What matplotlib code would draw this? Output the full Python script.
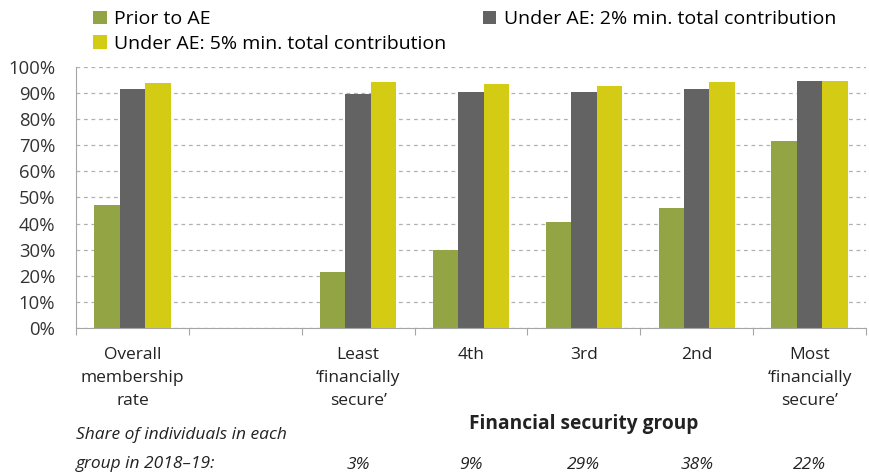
import numpy as np
import matplotlib
matplotlib.use("Agg")
import matplotlib.pyplot as plt

plt.rcParams['font.family'] = ['Open Sans', 'DejaVu Sans']

# data
groups = ["Overall\nmembership\nrate", "", "Least\n\u2018financially\nsecure\u2019", "4th", "3rd", "2nd",
          "Most\n\u2018financially\nsecure\u2019"]
prior = [47.1, np.nan, 21.3, 29.9, 40.5, 46.0, 71.5]
ae_2pc = [91.6, np.nan, 89.7, 90.5, 90.3, 91.6, 94.5]
ae_5pc = [93.7, np.nan, 94.4, 93.5, 92.6, 94.1, 94.5]
shares = ["", "", "3%", "9%", "29%", "38%", "22%"]

col_prior = "#93A445"
col_2pc = "#636363"
col_5pc = "#D4CC14"
grey = "#A6A6A6"
txt = "#222222"

fig = plt.figure(figsize=(8.7, 4.73), dpi=100)
ax = fig.add_axes([0.0874, 0.3066, 0.908, 0.552])

x = np.arange(len(groups))
w = 0.225
b1 = ax.bar(x - w, prior, w, color=col_prior, label="Prior to AE")
b2 = ax.bar(x, ae_2pc, w, color=col_2pc, label="Under AE: 2% min. total contribution")
b3 = ax.bar(x + w, ae_5pc, w, color=col_5pc, label="Under AE: 5% min. total contribution")

ax.set_xlim(-0.5, len(groups) - 0.5)
ax.set_ylim(0, 100)
ax.set_yticks(np.arange(0, 101, 10))
ax.set_yticklabels([f"{v}%" for v in range(0, 101, 10)], fontsize=13.3, color="#333333")
ax.yaxis.grid(True, linestyle=(0, (3, 3)), color="#B0B0B0", linewidth=0.9)
ax.set_axisbelow(True)
ax.tick_params(axis="y", length=0, pad=15)

ax.set_xticks(np.arange(len(groups) + 1) - 0.5)
ax.set_xticklabels([])
ax.tick_params(axis="x", length=5, color=grey, direction="out")
for s in ["top", "right"]:
    ax.spines[s].set_visible(False)
ax.spines["left"].set_color(grey)
ax.spines["bottom"].set_color(grey)

# category labels under the axis
for xi, g in zip(x, groups):
    ax.annotate(g, (xi, 0), xycoords=("data", "axes fraction"), xytext=(0, -14),
                textcoords="offset points", ha="center", va="top", fontsize=12.5,
                color=txt, linespacing=1.55)
ax.annotate("Financial security group", (4.0, 0), xycoords=("data", "axes fraction"),
            xytext=(0, -62), textcoords="offset points", ha="center", va="top",
            fontsize=13.8, fontweight="bold", color=txt)
fig.text(76 / 870, 1 - 435 / 473, "Share of individuals in each", fontsize=12.5, style="italic",
         color=txt, va="center", ha="left")
fig.text(76 / 870, 1 - 464 / 473, "group in 2018\u201319:", fontsize=12.5, style="italic",
         color=txt, va="center", ha="left")
for xi, s in zip(x, shares):
    if s:
        ax.annotate(s, (xi, 0), xycoords=("data", "axes fraction"),
                    xytext=(0, -(465 - 328) * 0.72), textcoords="offset points",
                    ha="center", va="center", fontsize=12.5, style="italic", color=txt)

fig.legend(handles=[b1, b3, b2], loc="upper left", bbox_to_anchor=(0.098, 0.995), ncol=2,
           frameon=False, fontsize=14, handlelength=0.7, handleheight=0.7,
           handletextpad=0.4, columnspacing=1.85, labelspacing=0.35, borderaxespad=0)

fig.savefig("out.png", dpi=100)
